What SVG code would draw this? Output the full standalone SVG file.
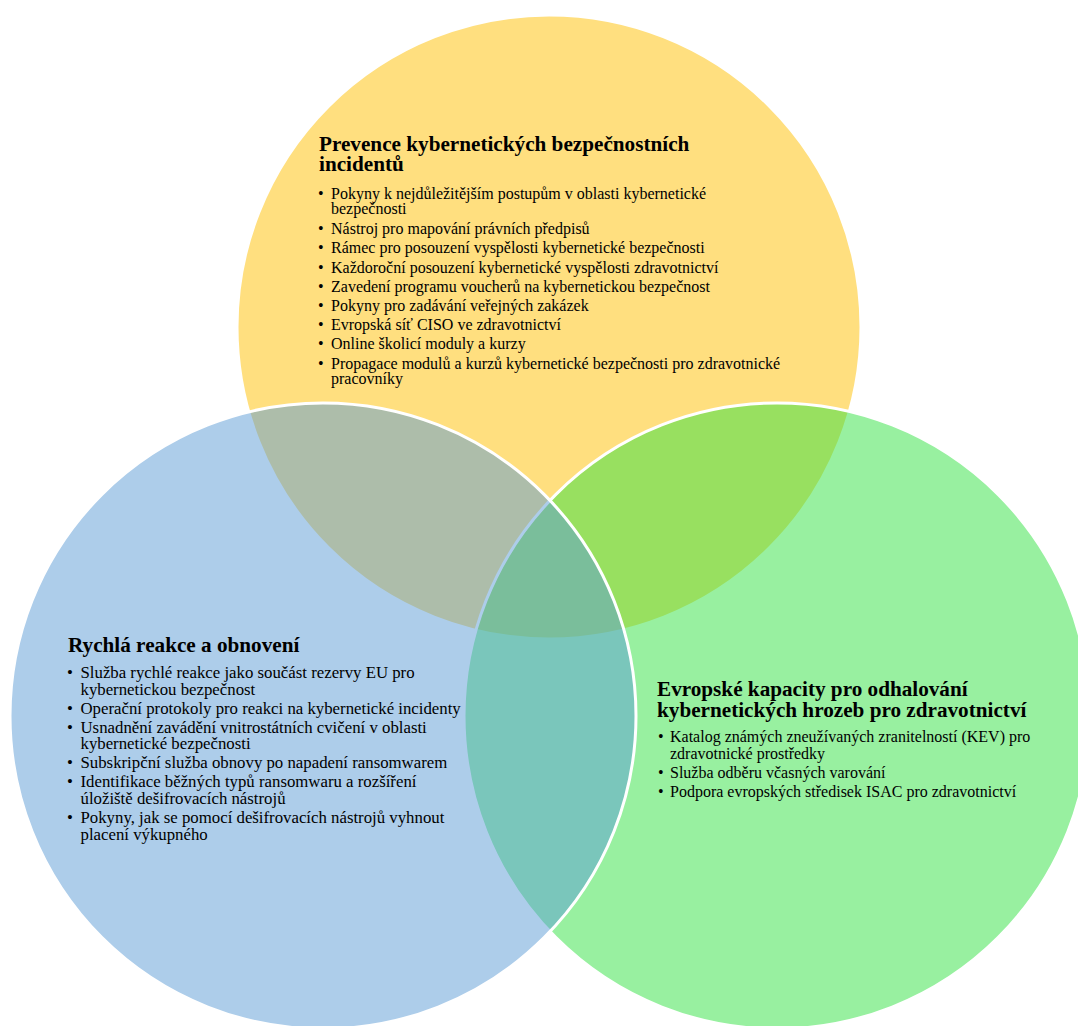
<svg xmlns="http://www.w3.org/2000/svg" width="1078" height="1026" viewBox="0 0 1078 1026">
<style>
.c{stroke:#fff;stroke-width:3;fill-opacity:0.5}
text{font-family:"Liberation Serif","Times New Roman",serif;fill:#000}
.t{font-weight:bold;font-size:21.2px}
.b{font-size:16px}
.bl{font-size:16.8px}
</style>
<rect width="1078" height="1026" fill="#fff"/>
<g id="circles">
<circle id="circle-prevence" class="c" cx="549" cy="327" r="312" fill="#FFBF00"/>
<circle id="circle-detekce" class="c" cx="777" cy="716" r="313" fill="#31E141"/>
<circle id="circle-reakce" class="c" cx="323" cy="716" r="313" fill="#5B9BD5"/>
</g>
<g id="node-prevence">
<text class="t"><tspan x="319" y="151">Prevence kybernetických bezpečnostních</tspan><tspan x="319" y="170.5">incidentů</tspan></text>
<g class="b">
<text><tspan x="318" y="199">•</tspan><tspan x="331" y="199">Pokyny k nejdůležitějším postupům v oblasti kybernetické</tspan><tspan x="331" y="214">bezpečnosti</tspan></text>
<text><tspan x="318" y="234">•</tspan><tspan x="331" y="234">Nástroj pro mapování právních předpisů</tspan></text>
<text><tspan x="318" y="253">•</tspan><tspan x="331" y="253">Rámec pro posouzení vyspělosti kybernetické bezpečnosti</tspan></text>
<text><tspan x="318" y="272.5">•</tspan><tspan x="331" y="272.5">Každoroční posouzení kybernetické vyspělosti zdravotnictví</tspan></text>
<text><tspan x="318" y="291.5">•</tspan><tspan x="331" y="291.5">Zavedení programu voucherů na kybernetickou bezpečnost</tspan></text>
<text><tspan x="318" y="311">•</tspan><tspan x="331" y="311">Pokyny pro zadávání veřejných zakázek</tspan></text>
<text><tspan x="318" y="330">•</tspan><tspan x="331" y="330">Evropská síť CISO ve zdravotnictví</tspan></text>
<text><tspan x="318" y="349">•</tspan><tspan x="331" y="349">Online školicí moduly a kurzy</tspan></text>
<text><tspan x="318" y="369">•</tspan><tspan x="331" y="369">Propagace modulů a kurzů kybernetické bezpečnosti pro zdravotnické</tspan><tspan x="331" y="383.5">pracovníky</tspan></text>
</g>
</g>
<g id="node-reakce">
<text class="t" x="68" y="652">Rychlá reakce a obnovení</text>
<g class="bl">
<text><tspan x="67" y="678">•</tspan><tspan x="80.5" y="678">Služba rychlé reakce jako součást rezervy EU pro</tspan><tspan x="80.5" y="694.5">kybernetickou bezpečnost</tspan></text>
<text><tspan x="67" y="713.5">•</tspan><tspan x="80.5" y="713.5">Operační protokoly pro reakci na kybernetické incidenty</tspan></text>
<text><tspan x="67" y="732.5">•</tspan><tspan x="80.5" y="732.5">Usnadnění zavádění vnitrostátních cvičení v oblasti</tspan><tspan x="80.5" y="749">kybernetické bezpečnosti</tspan></text>
<text><tspan x="67" y="768">•</tspan><tspan x="80.5" y="768">Subskripční služba obnovy po napadení ransomwarem</tspan></text>
<text><tspan x="67" y="787">•</tspan><tspan x="80.5" y="787">Identifikace běžných typů ransomwaru a rozšíření</tspan><tspan x="80.5" y="803.5">úložiště dešifrovacích nástrojů</tspan></text>
<text><tspan x="67" y="823">•</tspan><tspan x="80.5" y="823">Pokyny, jak se pomocí dešifrovacích nástrojů vyhnout</tspan><tspan x="80.5" y="839.5">placení výkupného</tspan></text>
</g>
</g>
<g id="node-detekce">
<text class="t"><tspan x="657" y="696">Evropské kapacity pro odhalování</tspan><tspan x="657" y="716.5">kybernetických hrozeb pro zdravotnictví</tspan></text>
<g class="b">
<text><tspan x="658" y="742">•</tspan><tspan x="670" y="742">Katalog známých zneužívaných zranitelností (KEV) pro</tspan><tspan x="670" y="758.5">zdravotnické prostředky</tspan></text>
<text><tspan x="658" y="778">•</tspan><tspan x="670" y="778">Služba odběru včasných varování</tspan></text>
<text><tspan x="658" y="797">•</tspan><tspan x="670" y="797">Podpora evropských středisek ISAC pro zdravotnictví</tspan></text>
</g>
</g>
<g id="connectors"/>
</svg>
